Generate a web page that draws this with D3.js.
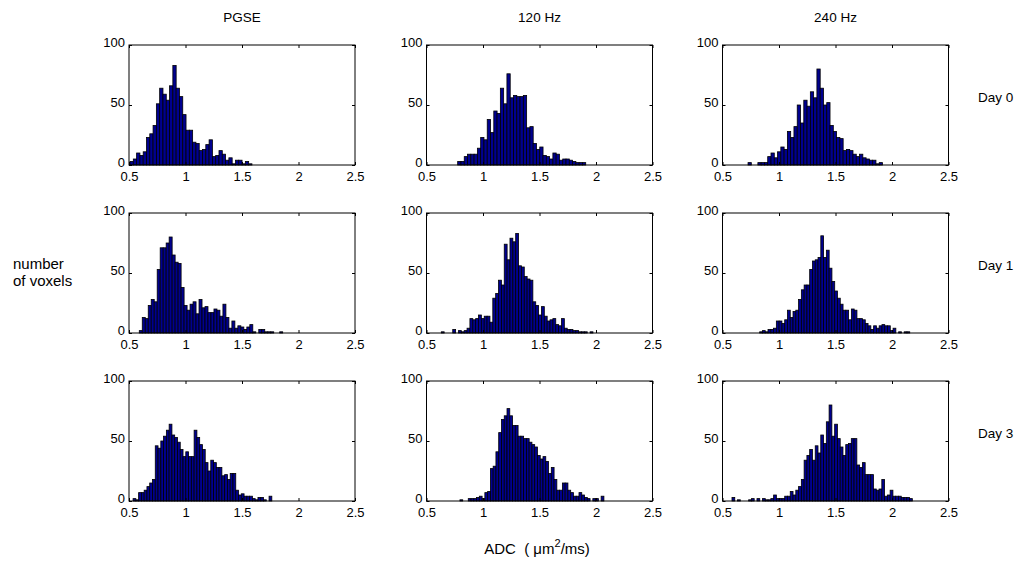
<!DOCTYPE html>
<html>
<head>
<meta charset="utf-8">
<script src="https://cdn.jsdelivr.net/npm/d3@7"></script>
<style>
  html, body { margin: 0; padding: 0; background: #fff; }
  svg { display: block; font-family: "Liberation Sans", Arial, Helvetica, sans-serif; }
</style>
</head>
<body>
<svg id="chart" width="1031" height="563"></svg>
<script>
// ---- data ----
const methods = ["PGSE", "120 Hz", "240 Hz"];
const days = ["Day 0", "Day 1", "Day 3"];
const xTicks = [0.5, 1, 1.5, 2, 2.5];
const yTicks = [0, 50, 100];

// ADC range (µm²/ms) covered by each histogram's bins, [low, high]
const pgseDay0Range = [0.509, 1.588];
const hz120Day0Range = [0.776, 1.909];
const hz240Day0Range = [0.726, 1.916];
const pgseDay1Range = [0.591, 1.86];
const hz120Day1Range = [0.631, 1.973];
const hz240Day1Range = [0.829, 2.157];
const pgseDay3Range = [0.536, 1.764];
const hz120Day3Range = [0.796, 2.07];
const hz240Day3Range = [0.584, 2.18];

// voxel counts per bin
const pgseDay0 = [3,5,10,8,11,23,26,33,51,64,59,54,66,83,64,57,42,29,29,19,18,12,13,17,21,7,8,12,9,4,6,1,4,4,1,3,1];
const hz120Day0 = [3,3,7,9,9,9,14,23,21,38,27,45,43,64,51,76,56,58,57,57,58,31,32,18,13,15,8,7,5,10,9,4,5,5,4,3,2,2,2];
const hz240Day0 = [2,0,0,2,2,2,7,10,6,11,15,13,28,23,32,50,35,54,49,61,56,80,64,50,52,33,28,23,22,12,13,12,9,7,9,6,5,4,4,1,2];
const pgseDay1 = [2,13,12,23,28,26,53,71,71,75,80,65,59,58,38,23,19,24,26,16,28,21,22,17,17,20,19,14,24,13,4,10,4,6,5,3,5,7,1,0,3,3,1,1,1,0,0,1];
const hz120Day1 = [1,0,0,0,3,0,2,1,2,4,12,11,12,15,12,14,14,9,29,33,44,40,74,61,79,76,83,56,55,47,45,44,26,23,15,22,14,10,11,12,7,6,12,4,3,3,2,2,1,1,1,0,1];
const hz240Day1 = [1,2,1,3,3,4,10,10,8,11,19,13,18,19,28,36,40,40,53,60,61,63,81,63,69,54,43,35,29,24,19,19,11,20,19,12,12,11,8,6,3,6,4,6,7,6,6,2,4,0,1,0,1,1];
const pgseDay3 = [2,1,7,7,9,12,15,18,46,44,50,54,59,64,55,53,49,43,37,41,37,37,59,53,47,43,32,25,34,32,28,28,21,22,18,23,23,9,5,6,4,4,4,2,1,3,3,1,0,4];
const hz120Day3 = [1,0,0,2,2,2,3,4,2,7,8,27,29,41,57,68,71,77,71,63,63,54,54,52,52,49,47,45,38,35,37,33,23,28,18,9,9,15,15,9,7,4,4,7,5,3,2,0,2,2,0,4];
const hz240Day3 = [3,0,1,0,0,0,1,2,0,2,0,2,1,1,2,5,2,2,2,4,4,8,5,9,12,18,34,38,43,34,46,40,55,48,66,80,54,64,52,45,38,47,48,52,52,30,28,32,22,22,22,10,9,10,18,4,5,9,4,4,4,3,3,3,2];

const panels = [
  [pgseDay0, pgseDay0Range], [hz120Day0, hz120Day0Range], [hz240Day0, hz240Day0Range],
  [pgseDay1, pgseDay1Range], [hz120Day1, hz120Day1Range], [hz240Day1, hz240Day1Range],
  [pgseDay3, pgseDay3Range], [hz120Day3, hz120Day3Range], [hz240Day3, hz240Day3Range]
];

// ---- layout ----
const colLeft = [129, 426.5, 722.5];
const rowTop = [45, 213, 381];
const pw = 226, ph = 120;
const barFill = "#00008f";
const font = "13px";

const svg = d3.select("#chart");
svg.append("rect").attr("width", 1031).attr("height", 563).attr("fill", "#fff");

panels.forEach(([counts, range], k) => {
  const r = Math.floor(k / 3), c = k % 3;
  const g = svg.append("g").attr("transform", `translate(${colLeft[c]},${rowTop[r]})`);
  const x = d3.scaleLinear().domain([0.5, 2.5]).range([0, pw]);
  const y = d3.scaleLinear().domain([0, 100]).range([ph, 0]);
  const w = (range[1] - range[0]) / counts.length;
  const bins = counts.map((v, i) => ({ x0: range[0] + i * w, x1: range[0] + (i + 1) * w, v }));

  g.append("g").selectAll("rect").data(bins.filter(d => d.v > 0)).join("rect")
    .attr("x", d => x(d.x0))
    .attr("width", d => x(d.x1) - x(d.x0))
    .attr("y", d => y(d.v))
    .attr("height", d => y(0) - y(d.v))
    .attr("fill", barFill)
    .attr("stroke", "#000")
    .attr("stroke-width", 0.8);

  // axes with inward ticks
  const ax = (gen, tr) => {
    const a = g.append("g").attr("transform", tr).call(gen);
    a.select(".domain").remove();
    a.selectAll("line").attr("stroke", "#000");
    a.selectAll("text").attr("fill", "#000").style("font-size", font);
    return a;
  };
  ax(d3.axisBottom(x).tickValues(xTicks).tickFormat(d3.format("")).tickSize(-3).tickPadding(7), `translate(0,${ph})`);
  ax(d3.axisTop(x).tickValues(xTicks).tickSize(-3).tickFormat(""), "translate(0,0)");
  const yl = ax(d3.axisLeft(y).tickValues(yTicks).tickSize(-3).tickPadding(4), "translate(0,0)");
  yl.selectAll("text").attr("dy", "0.15em");
  ax(d3.axisRight(y).tickValues(yTicks).tickSize(-3).tickFormat(""), `translate(${pw},0)`);

  g.append("rect").attr("width", pw).attr("height", ph)
    .attr("fill", "none").attr("stroke", "#000").attr("stroke-width", 1);
});

// column titles
methods.forEach((m, c) => {
  svg.append("text").attr("x", colLeft[c] + pw / 2).attr("y", 22)
    .attr("text-anchor", "middle").style("font-size", "13.5px").text(m);
});
// row labels
days.forEach((d, r) => {
  svg.append("text").attr("x", 978).attr("y", rowTop[r] + 57)
    .style("font-size", "13.5px").text(d);
});
// y label
const ylab = svg.append("text").attr("x", 13).attr("y", 269).style("font-size", "15px");
ylab.append("tspan").attr("x", 13).text("number");
ylab.append("tspan").attr("x", 13).attr("dy", 17).text("of voxels");

// x label
const xl = svg.append("text").attr("x", 537).attr("y", 554).attr("text-anchor", "middle")
  .attr("xml:space", "preserve").style("white-space", "pre").style("font-size", "15px");
xl.append("tspan").text("ADC  ( \u03bcm");
xl.append("tspan").attr("dy", -7).style("font-size", "11px").text("2");
xl.append("tspan").attr("dy", 7).text("/ms)");
</script>
</body>
</html>
